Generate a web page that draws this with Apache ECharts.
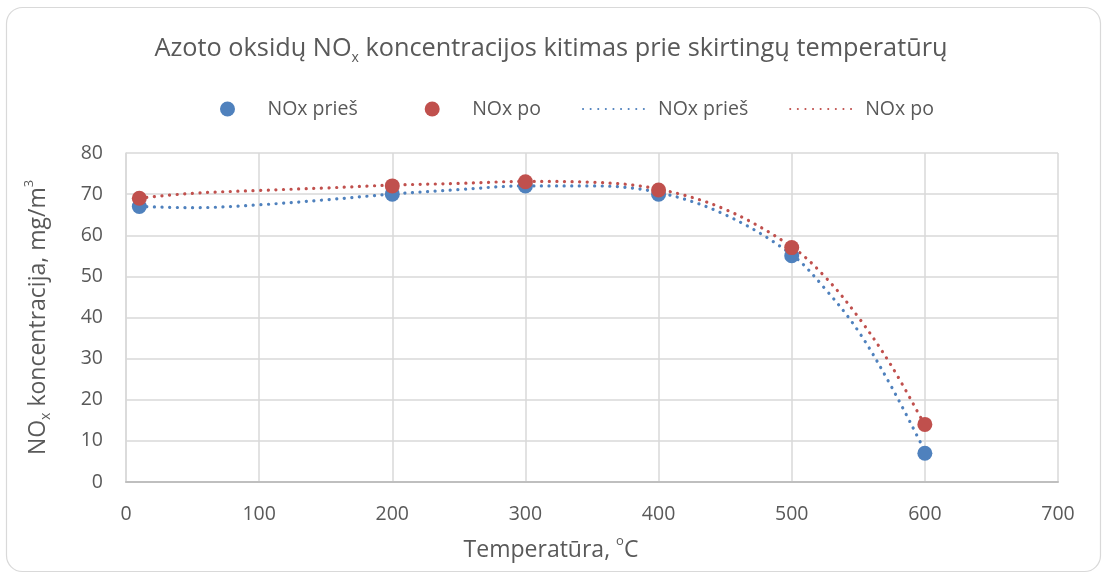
<!DOCTYPE html>
<html>
<head>
<meta charset="utf-8">
<script src="https://cdn.jsdelivr.net/npm/echarts@6/dist/echarts.min.js"></script>
<style>
  html, body { margin: 0; padding: 0; background: #ffffff; }
  #chart { width: 1102px; height: 575px; }
</style>
</head>
<body>
<div id="chart"></div>
<script>
// Measured NOx concentration (mg/m3) at each temperature (°C)
const temperatures = [10, 200, 300, 400, 500, 600];
const noxBefore = [67, 70, 72, 70, 55, 7];
const noxAfter = [69, 72, 73, 71, 57, 14];

// Polynomial trend lines, sampled along the temperature range
const trendTemps = [10, 50, 100, 150, 200, 250, 300, 350, 400, 450, 500, 525, 550, 575, 600];
const trendBefore = [67.0, 66.7, 67.4, 68.6, 70.0, 71.1, 72.0, 72.0, 70.4, 65.0, 55.3, 47.0, 36.7, 23.1, 7.5];
const trendAfter = [69.0, 70.2, 70.9, 71.5, 72.2, 72.6, 73.1, 72.9, 71.2, 66.3, 57.2, 49.9, 40.1, 28.2, 13.8];

// Axis ticks
const xTicks = { min: 0, max: 700, interval: 100 };
const yTicks = { min: 0, max: 80, interval: 10 };

const legendLabels = {
  pointsBefore: 'NOx prieš',
  pointsAfter: 'NOx po',
  trendBefore: 'NOx prieš',
  trendAfter: 'NOx po'
};

const BLUE = '#4F81BD';
const RED = '#C0504D';
const TEXT = '#595959';
const FONT = '"Open Sans", "Noto Sans", sans-serif';

const pairs = (xs, ys) => xs.map((x, i) => [x, ys[i]]);

const chart = echarts.init(document.getElementById('chart'), null, { renderer: 'canvas' });

const richScript = {
  sub: { fontSize: 14, fontFamily: FONT, color: TEXT, verticalAlign: 'bottom' },
  sup: { fontSize: 13, fontFamily: FONT, color: TEXT, verticalAlign: 'top' }
};

const legendText = { fontFamily: FONT, fontSize: 19.5, color: TEXT };

chart.setOption({
  backgroundColor: '#ffffff',
  animation: false,
  textStyle: { fontFamily: FONT, color: TEXT },
  graphic: [{
    type: 'rect',
    shape: { x: 6.5, y: 7.5, width: 1094, height: 564, r: 16 },
    style: { fill: 'none', stroke: '#d9d9d9', lineWidth: 1.2 },
    silent: true,
    z: -1
  }],
  title: [
    {
      text: 'Azoto oksidų NO{sub|x} koncentracijos kitimas prie skirtingų temperatūrų',
      left: 'center',
      top: 28,
      textStyle: {
        fontFamily: FONT, fontSize: 25.3, fontWeight: 'normal', color: TEXT,
        lineHeight: 32, rich: richScript
      }
    },
    {
      text: 'Temperatūra, {sup|o}C',
      left: 'center',
      top: 530,
      textStyle: {
        fontFamily: FONT, fontSize: 23, fontWeight: 'normal', color: TEXT,
        lineHeight: 30, rich: richScript
      }
    }
  ],
  legend: [
    {
      data: [
        { name: 'pointsBefore', icon: 'circle' },
        { name: 'pointsAfter', icon: 'circle' }
      ],
      left: 215,
      top: 94,
      itemWidth: 70,
      itemHeight: 15,
      itemGap: 67,
      formatter: name => legendLabels[name],
      textStyle: legendText
    },
    {
      data: [
        { name: 'trendBefore', itemStyle: { opacity: 0 }, lineStyle: { opacity: 1 } },
        { name: 'trendAfter', itemStyle: { opacity: 0 }, lineStyle: { opacity: 1 } }
      ],
      left: 577,
      top: 94,
      itemWidth: 65,
      itemHeight: 15,
      itemGap: 41,
      formatter: name => legendLabels[name],
      textStyle: Object.assign({ padding: [0, 0, 0, 5] }, legendText)
    }
  ],
  grid: { left: 126, right: 44, top: 153, bottom: 93, containLabel: false },
  xAxis: {
    type: 'value',
    min: xTicks.min, max: xTicks.max, interval: xTicks.interval,
    axisLine: { show: true, lineStyle: { color: '#bfbfbf', width: 2 } },
    axisTick: { show: false },
    axisLabel: { fontFamily: FONT, fontSize: 19.5, color: TEXT, margin: 22 },
    splitLine: { show: true, lineStyle: { color: '#d9d9d9', width: 1.5 } }
  },
  yAxis: {
    type: 'value',
    min: yTicks.min, max: yTicks.max, interval: yTicks.interval,
    name: 'NO{sub|x} koncentracija, mg/m{sup|3}',
    nameLocation: 'middle',
    nameGap: 73,
    nameTextStyle: {
      fontFamily: FONT, fontSize: 23, color: TEXT, lineHeight: 30, rich: richScript
    },
    axisLine: { show: true, lineStyle: { color: '#d9d9d9', width: 1.5 } },
    axisTick: { show: false },
    axisLabel: { fontFamily: FONT, fontSize: 19.5, color: TEXT, margin: 23 },
    splitLine: { show: true, lineStyle: { color: '#d9d9d9', width: 1.5 } }
  },
  series: [
    {
      name: 'trendBefore',
      type: 'line',
      data: pairs(trendTemps, trendBefore),
      smooth: 0.35,
      showSymbol: false,
      symbol: 'none',
      lineStyle: { color: BLUE, width: 3.2, type: [0.1, 7.5], cap: 'round' },
      itemStyle: { color: BLUE },
      z: 2
    },
    {
      name: 'trendAfter',
      type: 'line',
      data: pairs(trendTemps, trendAfter),
      smooth: 0.35,
      showSymbol: false,
      symbol: 'none',
      lineStyle: { color: RED, width: 3.2, type: [0.1, 7.5], cap: 'round' },
      itemStyle: { color: RED },
      z: 2
    },
    {
      name: 'pointsBefore',
      type: 'scatter',
      data: pairs(temperatures, noxBefore),
      symbol: 'circle',
      symbolSize: 15,
      itemStyle: { color: BLUE, opacity: 1 },
      z: 3
    },
    {
      name: 'pointsAfter',
      type: 'scatter',
      data: pairs(temperatures, noxAfter),
      symbol: 'circle',
      symbolSize: 15,
      itemStyle: { color: RED, opacity: 1 },
      z: 4
    }
  ]
});
</script>
</body>
</html>
